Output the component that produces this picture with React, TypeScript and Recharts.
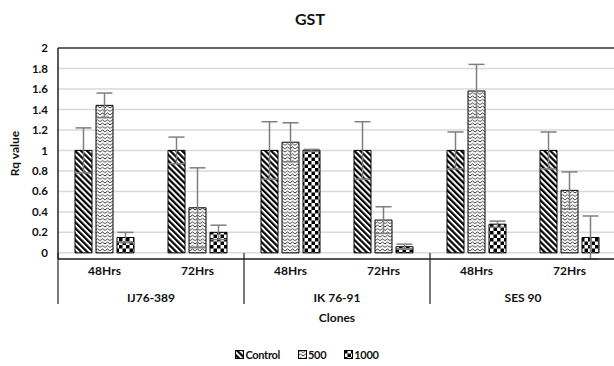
import React from "react";
import {
  BarChart, Bar, XAxis, YAxis, CartesianGrid, ErrorBar, ReferenceLine,
} from "recharts";

// GST relative expression (Rq) by clone and time point
const clones = ["IJ76-389", "IK 76-91", "SES 90"];
const times = ["48Hrs", "72Hrs"];
const control = [1, 1, 1, 1, 1, 1];
const controlErr = [0.22, 0.13, 0.28, 0.28, 0.18, 0.18];
const dose500 = [1.44, 0.44, 1.08, 0.32, 1.58, 0.61];
const dose500Err = [0.12, 0.39, 0.19, 0.13, 0.26, 0.18];
const dose1000 = [0.15, 0.2, 1.0, 0.06, 0.28, 0.15];
const dose1000Err = [0.05, 0.07, 0.01, 0.025, 0.03, 0.21];
const yTicks = [0, 0.2, 0.4, 0.6, 0.8, 1, 1.2, 1.4, 1.6, 1.8, 2];

const rows = clones.flatMap((clone, ci) =>
  times.map((time, ti) => {
    const i = ci * times.length + ti;
    return {
      clone,
      time,
      control: control[i],
      controlErr: controlErr[i],
      d500: dose500[i],
      d500Err: dose500Err[i],
      d1000: dose1000[i],
      d1000Err: dose1000Err[i],
    };
  })
);

const CHART_W = 616;
const CHART_H = 366;
const Y_AXIS_W = 58;
const BAND = (CHART_W - Y_AXIS_W) / rows.length;
const FONT = "Lato, 'Open Sans', sans-serif";
const ERR = "#7f7f7f";

// two-level category tick: time point on top, clone name centred under each pair
function ClonedTick(props: any) {
  const { x, y, payload, index } = props;
  const first = index % times.length === 0;
  const last = index === rows.length - 1;
  return (
    <g>
      <text x={x} y={y + 16} textAnchor="middle" fontFamily={FONT} fontWeight={700} fontSize={12} fill="#111">
        {payload.value}
      </text>
      {first && (
        <>
          <line x1={x - BAND / 2} x2={x - BAND / 2} y1={y - 6} y2={y + 45} stroke="#222" strokeWidth={1.2} />
          <text x={x + BAND / 2} y={y + 43} textAnchor="middle" fontFamily={FONT} fontWeight={700} fontSize={12} fill="#111">
            {clones[Math.floor(index / times.length)]}
          </text>
        </>
      )}
      {last && <line x1={x + BAND / 2} x2={x + BAND / 2} y1={y - 6} y2={y + 45} stroke="#222" strokeWidth={1.2} />}
    </g>
  );
}

function PatternDefs() {
  return (
    <defs>
      <pattern id="pat-control" width="4.2" height="4.2" patternUnits="userSpaceOnUse" patternTransform="rotate(-45)">
        <rect width="4.2" height="4.2" fill="#fff" />
        <rect width="2.2" height="4.2" fill="#000" />
      </pattern>
      <pattern id="pat-500" width="5" height="3.4" patternUnits="userSpaceOnUse">
        <rect width="5" height="3.4" fill="#fff" />
        <path d="M0 2.6 L2.5 0.8 L5 2.6" fill="none" stroke="#000" strokeWidth={0.8} />
      </pattern>
      <pattern id="pat-1000" width="7" height="7" patternUnits="userSpaceOnUse">
        <rect width="7" height="7" fill="#fff" />
        <rect width="3.5" height="3.5" fill="#000" />
        <rect x="3.5" y="3.5" width="3.5" height="3.5" fill="#000" />
      </pattern>
    </defs>
  );
}

const legendItems = [
  { label: "Control", fill: "url(#pat-control)" },
  { label: "500", fill: "url(#pat-500)" },
  { label: "1000", fill: "url(#pat-1000)" },
];

export default function App() {
  return (
    <div style={{ position: "absolute", left: 0, top: 0, width: 614, height: 366, overflow: "hidden", background: "#fff", fontFamily: FONT }}>
      <div style={{ position: "absolute", top: 9, left: 0, width: 620, textAlign: "center", fontSize: 16, fontWeight: 700, color: "#111" }}>
        GST
      </div>

      <BarChart
        width={CHART_W}
        height={CHART_H}
        data={rows}
        margin={{ top: 48, right: 0, left: 0, bottom: 37 }}
        barSize={17}
        barGap={4}
      >
        <PatternDefs />
        <CartesianGrid vertical={false} stroke="#d9d9d9" strokeWidth={1.5} />
        <ReferenceLine y={2} stroke="#3a3a3a" strokeWidth={1.5} />
        <XAxis
          dataKey="time"
          height={70}
          tickLine={false}
          tickSize={0}
          tickMargin={0}
          axisLine={{ stroke: "#222", strokeWidth: 1.5 }}
          interval={0}
          tick={<ClonedTick />}
          label={{ value: "Clones", position: "insideBottom", offset: 7, style: { fontFamily: FONT, fontWeight: 700, fontSize: 12, fill: "#111" } }}
        />
        <YAxis
          width={Y_AXIS_W}
          domain={[0, 2]}
          ticks={yTicks}
          interval={0}
          tickLine={false}
          axisLine={{ stroke: "#222", strokeWidth: 1.5 }}
          tick={{ fontFamily: FONT, fontWeight: 700, fontSize: 11.5, fill: "#111" }}
          tickMargin={4}
          label={{ value: "Rq value", angle: -90, position: "insideLeft", offset: 15, style: { textAnchor: "middle", fontFamily: FONT, fontWeight: 700, fontSize: 12, fill: "#111" } }}
        />
        <Bar dataKey="control" fill="url(#pat-control)" stroke="#000" strokeWidth={1} isAnimationActive={false}>
          <ErrorBar dataKey="controlErr" width={8} stroke={ERR} strokeWidth={1.5} direction="y" />
        </Bar>
        <Bar dataKey="d500" fill="url(#pat-500)" stroke="#000" strokeWidth={1} isAnimationActive={false}>
          <ErrorBar dataKey="d500Err" width={8} stroke={ERR} strokeWidth={1.5} direction="y" />
        </Bar>
        <Bar dataKey="d1000" fill="url(#pat-1000)" stroke="#000" strokeWidth={1} isAnimationActive={false}>
          <ErrorBar dataKey="d1000Err" width={8} stroke={ERR} strokeWidth={1.5} direction="y" />
        </Bar>
      </BarChart>

      {/* legend */}
      <div style={{ position: "absolute", top: 348, left: 0, width: 614, display: "flex", justifyContent: "center", alignItems: "center", fontSize: 11, fontWeight: 700, letterSpacing: -0.3, color: "#111" }}>
        {legendItems.map((it, i) => (
          <span key={it.label} style={{ display: "inline-flex", alignItems: "center", marginRight: i < legendItems.length - 1 ? 18 : 0 }}>
            <svg width={9} height={9} style={{ marginRight: 1 }}>
              <rect x={0.5} y={0.5} width={8} height={8} fill={it.fill} stroke="#000" strokeWidth={1} />
            </svg>
            {it.label}
          </span>
        ))}
      </div>
    </div>
  );
}
